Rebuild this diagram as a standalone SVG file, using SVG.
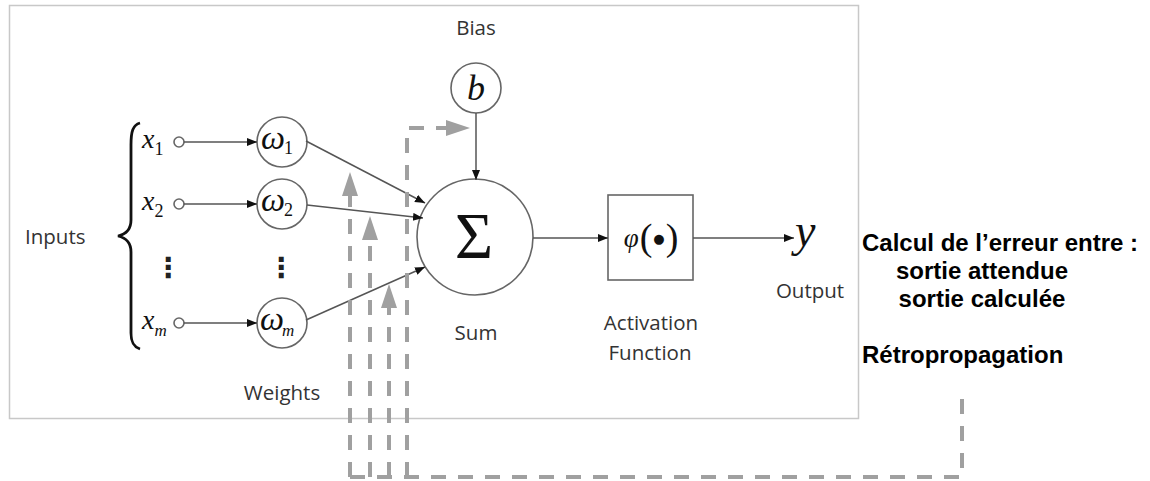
<svg xmlns="http://www.w3.org/2000/svg" width="1150" height="481" viewBox="0 0 1150 481">
<style>
.lbl{font-family:"Open Sans","Liberation Sans",sans-serif;font-size:20.5px;fill:#333}
.math{font-family:"Liberation Serif","DejaVu Serif",serif;font-style:italic;fill:#111}
.up{font-style:normal}
.fr{font-family:"Liberation Sans",Arial,sans-serif;font-weight:bold;font-size:24px;fill:#000}
.node{fill:#fff;stroke:#666;stroke-width:1.6}
.conn{stroke:#555;stroke-width:1.5;fill:none}
.dash{stroke:#a0a0a0;stroke-width:4;fill:none;stroke-dasharray:15 12}
.dots{font-family:"DejaVu Sans",sans-serif;font-size:28px;font-weight:bold;fill:#222}
</style>
<defs>
<marker id="ar" markerUnits="userSpaceOnUse" markerWidth="12" markerHeight="10" refX="10" refY="4" orient="auto">
<path d="M0,0 L10,4 L0,8 Z" fill="#111"/>
</marker>
<marker id="ga" markerUnits="userSpaceOnUse" markerWidth="26" markerHeight="18" refX="0" refY="8" orient="auto">
<path d="M0,0 L24,8 L0,16 Z" fill="#a0a0a0"/>
</marker>
</defs>
<rect x="9.5" y="5.5" width="849" height="413" fill="#fff" stroke="#c8c8c8" stroke-width="1.5"/>

<g id="inputs-label"><text class="lbl" x="25" y="244">Inputs</text></g>
<g id="brace"><path d="M140,123 C133,125 131,131 131,145 L131,220 C131,229 127,234 118,236 C127,238 131,243 131,252 L131,333 C131,343 134,347 140,349" fill="none" stroke="#111" stroke-width="2.8"/></g>

<g id="x1"><text class="math" x="142" y="148" font-size="28">x<tspan class="up" font-size="18" dy="7">1</tspan></text><circle class="node" cx="179" cy="142" r="5"/></g>
<g id="x2"><text class="math" x="142" y="210" font-size="28">x<tspan class="up" font-size="18" dy="7">2</tspan></text><circle class="node" cx="179" cy="204" r="5"/></g>
<g id="xdots"><text class="dots" x="168" y="277" text-anchor="middle">⋮</text></g>
<g id="xm"><text class="math" x="142" y="329" font-size="28">x<tspan font-size="17" dy="7">m</tspan></text><circle class="node" cx="179" cy="323" r="5"/></g>

<g id="w1"><circle class="node" cx="282" cy="142" r="25"/><text class="math" x="261" y="149" font-size="34">ω<tspan class="up" font-size="18" dx="-1" dy="5">1</tspan></text></g>
<g id="w2"><circle class="node" cx="282" cy="204" r="25"/><text class="math" x="261" y="211" font-size="34">ω<tspan class="up" font-size="18" dx="-1" dy="5">2</tspan></text></g>
<g id="wdots"><text class="dots" x="281" y="277" text-anchor="middle">⋮</text></g>
<g id="wm"><circle class="node" cx="282" cy="323" r="25"/><text class="math" x="260" y="330" font-size="34">ω<tspan font-size="17" dx="-2" dy="6">m</tspan></text></g>
<g id="weights-label"><text class="lbl" x="282" y="400" text-anchor="middle">Weights</text></g>

<g id="bias"><text class="lbl" x="476" y="35" text-anchor="middle">Bias</text><circle class="node" cx="476" cy="88" r="25"/><text class="math" x="476" y="100" font-size="36" text-anchor="middle">b</text></g>

<g id="sum"><circle class="node" cx="475" cy="237" r="58"/><text class="math up" x="474" y="258" font-size="66" text-anchor="middle">Σ</text><text class="lbl" x="476" y="340" text-anchor="middle">Sum</text></g>

<g id="activation"><rect class="node" x="608" y="195" width="85" height="85"/><text class="math" x="651" y="247" text-anchor="middle"><tspan font-size="27">φ</tspan><tspan class="up" font-size="38" dx="1" dy="3">(</tspan><tspan class="up" font-family="DejaVu Sans,sans-serif" font-size="13" dx="1" dy="-7">●</tspan><tspan class="up" font-size="38" dx="1" dy="7">)</tspan></text><text class="lbl" x="651" y="330" text-anchor="middle">Activation</text><text class="lbl" x="650" y="360" text-anchor="middle">Function</text></g>

<g id="output"><text class="math" x="795" y="246" font-size="46">y</text><text class="lbl" x="810" y="298" text-anchor="middle">Output</text></g>

<g id="error-text"><text class="fr" x="862" y="251">Calcul de l’erreur entre :</text><text class="fr" x="982" y="279" text-anchor="middle">sortie attendue</text><text class="fr" x="982" y="307" text-anchor="middle">sortie calculée</text></g>
<g id="retro-text"><text class="fr" x="862" y="363">Rétropropagation</text></g>

<g id="connectors">
<line class="conn" x1="184" y1="142" x2="257" y2="142" marker-end="url(#ar)"/>
<line class="conn" x1="184" y1="204" x2="257" y2="204" marker-end="url(#ar)"/>
<line class="conn" x1="184" y1="323" x2="257" y2="323" marker-end="url(#ar)"/>
<line class="conn" x1="306" y1="141" x2="425" y2="203" marker-end="url(#ar)"/>
<line class="conn" x1="307" y1="205" x2="423" y2="218" marker-end="url(#ar)"/>
<line class="conn" x1="306" y1="320" x2="425" y2="267" marker-end="url(#ar)"/>
<line class="conn" x1="476" y1="113" x2="476" y2="180" marker-end="url(#ar)"/>
<line class="conn" x1="533" y1="238" x2="608" y2="238" marker-end="url(#ar)"/>
<line class="conn" x1="693" y1="238" x2="794" y2="238" marker-end="url(#ar)"/>
<path class="dash" d="M350,477 H962 V389"/>
<path class="dash" d="M350,477 V196" marker-end="url(#ga)"/>
<path class="dash" d="M370,477 V240" marker-end="url(#ga)"/>
<path class="dash" d="M389,477 V308" marker-end="url(#ga)"/>
<path class="dash" d="M407,477 V128 H446" marker-end="url(#ga)"/>
</g>
</svg>
